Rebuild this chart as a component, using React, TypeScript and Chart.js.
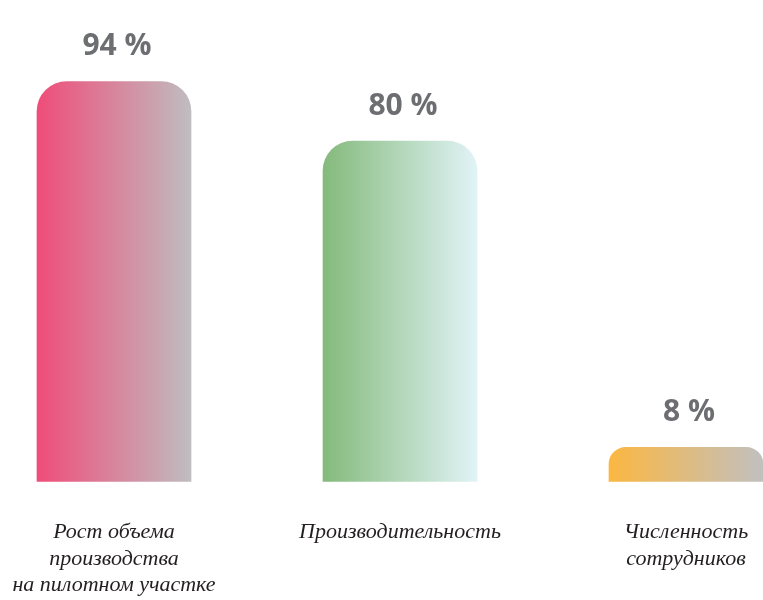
import React, { useEffect, useRef } from "react";
import { Chart, registerables } from "chart.js";

Chart.register(...registerables);

const categories: string[][] = [
  ["Рост объема", "производства", "на пилотном участке"],
  ["Производительность"],
  ["Численность", "сотрудников"],
];
const values: number[] = [94, 80, 8];
const valueLabels: string[] = ["94 %", "80 %", "8 %"];
const gradientStops: [string, string][] = [
  ["#ef4d79", "#bfbdc0"],
  ["#84ba7b", "#e1f3f7"],
  ["#fbb741", "#c1c0c0"],
];

const BAR_W = 154;

export default function App() {
  const ref = useRef<HTMLCanvasElement | null>(null);

  useEffect(() => {
    const canvas = ref.current;
    if (!canvas) return;

    const valuePlugin = {
      id: "valueLabels",
      afterDatasetsDraw(chart: any) {
        const ctx = chart.ctx;
        const meta = chart.getDatasetMeta(0);
        ctx.save();
        ctx.font = "bold 30px 'Open Sans'";
        ctx.fillStyle = "#6d6e71";
        ctx.textAlign = "center";
        ctx.textBaseline = "middle";
        meta.data.forEach((bar: any, i: number) => {
          ctx.fillText(valueLabels[i], bar.x + 3, bar.y - 35);
        });
        ctx.restore();
      },
    };

    const chart = new Chart(canvas, {
      type: "bar",
      data: {
        labels: categories,
        datasets: [
          {
            data: values,
            clip: false as any,
            barThickness: BAR_W,
            borderSkipped: "bottom",
            borderRadius: { topLeft: 30, topRight: 30, bottomLeft: 0, bottomRight: 0 },
            backgroundColor: (context: any) => {
              const c = context.chart;
              const xs = c.scales?.x;
              const i = context.dataIndex;
              if (!xs || i === undefined) return gradientStops[0][0];
              const cx = xs.getPixelForValue(i);
              if (!isFinite(cx)) return gradientStops[i][0];
              const g = c.ctx.createLinearGradient(cx - BAR_W / 2, 0, cx + BAR_W / 2, 0);
              g.addColorStop(0, gradientStops[i][0]);
              g.addColorStop(1, gradientStops[i][1]);
              return g;
            },
          } as any,
        ],
      },
      options: {
        responsive: false,
        animation: false,
        layout: { padding: { top: 56, left: 114, right: 77, bottom: -36 } },
        plugins: {
          legend: { display: false },
          tooltip: { enabled: false },
        },
        scales: {
          x: {
            offset: false,
            border: { display: false },
            grid: { display: false, drawTicks: false },
            afterFit: (scale: any) => {
              scale.paddingLeft = 0;
              scale.paddingRight = 0;
            },
            ticks: {
              padding: 37,
              color: "#231f20",
              maxRotation: 0,
              autoSkip: false,
              font: { family: "'Liberation Serif'", style: "italic", size: 22, lineHeight: 1.22 },
            },
          },
          y: {
            display: false,
            min: 0,
            max: 100,
          },
        },
      },
      plugins: [valuePlugin],
    });

    return () => chart.destroy();
  }, []);

  return (
    <div style={{ position: "absolute", left: 0, top: 0, width: 763, height: 600, background: "#fff" }}>
      <canvas ref={ref} width={763} height={600} style={{ display: "block" }} />
    </div>
  );
}
